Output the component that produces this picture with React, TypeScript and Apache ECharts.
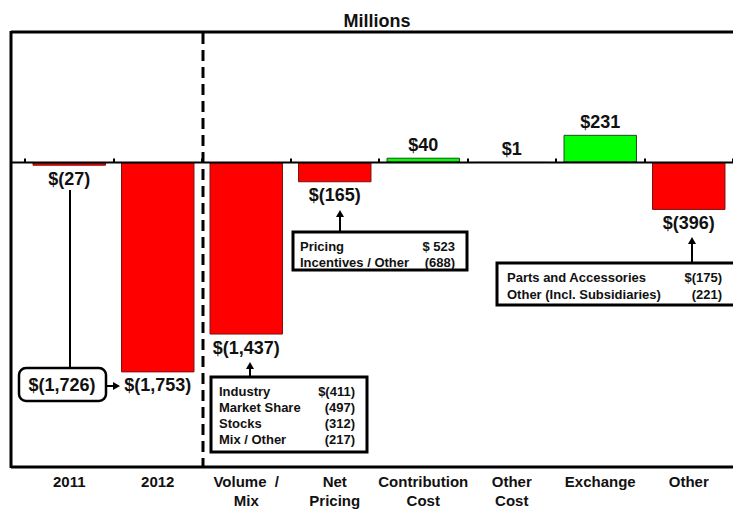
import React, { useEffect, useRef } from "react";
import * as echarts from "echarts";

const categories = ["2011", "2012", "Volume  /\nMix", "Net\nPricing", "Contribution\nCost", "Other\nCost", "Exchange", "Other"];
const values = [-27, -1753, -1437, -165, 40, 1, 231, -396];
const volumeRows = [["Industry", "$(411)"], ["Market Share", "(497)"], ["Stocks", "(312)"], ["Mix / Other", "(217)"]];
const pricingRows = [["Pricing", "$ 523"], ["Incentives / Other", "(688)"]];
const otherRows = [["Parts and Accessories", "$(175)"], ["Other (Incl. Subsidiaries)", "(221)"]];
const startLabel = "$(1,726)";
const titleText = "Millions";

const FONT = '"Liberation Sans", Arial, sans-serif';

function fmt(v: number): string {
  const a = Math.abs(v).toLocaleString("en-US");
  return v < 0 ? `$(${a})` : `$${a}`;
}

export default function App() {
  const ref = useRef<HTMLDivElement>(null);
  useEffect(() => {
    if (!ref.current) return;
    const chart = echarts.init(ref.current, null, { renderer: "svg" });
    const data = values.map((v) => ({
      value: v,
      itemStyle: {
        color: v < 0 ? "#ff0000" : "#00ff00",
        borderColor: v < 0 ? "#7a1010" : "#1d4d1d",
        borderWidth: 1,
      },
      label: { position: v < 0 ? "bottom" : "top" },
    }));
    chart.setOption({
      animation: false,
      grid: { left: 25, right: 0, top: 32, bottom: 43 },
      xAxis: {
        type: "category",
        data: categories,
        axisLine: { show: false },
        axisTick: { show: true, inside: true, length: 4, lineStyle: { color: "#000", width: 2 } },
        axisLabel: {
          color: "#111",
          fontFamily: FONT,
          fontWeight: "bold",
          fontSize: 15,
          lineHeight: 19,
          margin: 6,
          interval: 0,
        },
      },
      yAxis: { type: "value", min: -2535, max: 1090, show: false, splitLine: { show: false } },
      series: [
        {
          type: "bar",
          data,
          barWidth: "83%",
          label: {
            show: true,
            distance: 4,
            color: "#111",
            fontFamily: FONT,
            fontWeight: "bold",
            fontSize: 18,
            formatter: (p: any) => fmt(p.value),
          },
        },
      ],
    });

    const y0 = chart.convertToPixel({ yAxisIndex: 0 }, 0) as number;
    const txt = (x: number, y: number, t: string, size: number, align = "left") => ({
      type: "text",
      x,
      y,
      z: 20,
      style: { text: t, fill: "#111", font: `bold ${size}px ${FONT}`, textAlign: align, textVerticalAlign: "middle" },
    });
    const line = (x1: number, y1: number, x2: number, y2: number, w = 2, dash?: number[]) => ({
      type: "line",
      z: 15,
      shape: { x1, y1, x2, y2 },
      style: { stroke: "#000", lineWidth: w, lineDash: dash },
    });
    const head = (pts: number[][]) => ({ type: "polygon", z: 15, shape: { points: pts }, style: { fill: "#000" } });
    const box = (x: number, y: number, w: number, h: number, r = 0, lw = 3) => ({
      type: "rect",
      z: 14,
      shape: { x, y, width: w, height: h, r },
      style: { fill: "#fff", stroke: "#000", lineWidth: lw },
    });
    const rows = (rs: string[][], lx: number, rx: number, y: number, dy: number, size: number) =>
      rs.flatMap((r, i) => [txt(lx, y + i * dy, r[0], size), txt(rx, y + i * dy, r[1], size, "right")]);

    chart.setOption({
      graphic: [
        txt(377, 21, titleText, 18, "center"),
        line(11, 32, 733, 32, 3),
        line(11, 31, 11, 468, 3),
        line(11, 467, 733, 467, 3),
        line(11, y0, 733, y0, 2),
        line(203, 33, 203, 466, 3, [11, 6]),
        // 2011 connector
        line(70, 190, 70, 368, 2),
        box(19, 368, 87, 33, 7, 2.5),
        txt(62, 385, startLabel, 18, "center"),
        line(106, 386, 114, 386, 2),
        head([[113, 382], [120, 386], [113, 390]]),
        // Volume / Mix
        line(250, 377, 250, 367, 2),
        head([[246, 369], [250, 362], [254, 369]]),
        box(211, 377, 156, 75),
        ...rows(volumeRows, 219, 355, 391, 16, 13),
        // Net pricing
        line(340, 232, 340, 215, 2),
        head([[336, 217], [340, 210], [344, 217]]),
        box(293, 232, 174, 38),
        ...rows(pricingRows, 300, 455, 246, 16, 13),
        // Other
        line(692, 263, 692, 242, 2),
        head([[688, 244], [692, 237], [696, 244]]),
        box(497, 263, 250, 42),
        ...rows(otherRows, 507, 722, 277, 17, 13),
      ],
    });
    return () => chart.dispose();
  }, []);
  return <div ref={ref} style={{ position: "absolute", left: 0, top: 0, width: 733, height: 510, background: "#fff" }} />;
}
